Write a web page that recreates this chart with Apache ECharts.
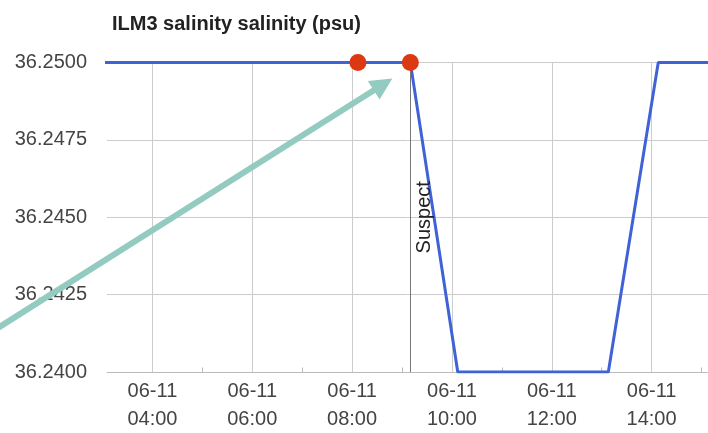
<!DOCTYPE html>
<html>
<head>
<meta charset="utf-8">
<script src="https://cdn.jsdelivr.net/npm/echarts@6/dist/echarts.min.js"></script>
<style>
  html, body { margin: 0; padding: 0; background: #fff; }
  #chart { width: 708px; height: 433px; }
</style>
</head>
<body>
<div id="chart"></div>
<script>
// readings, hourly (time of day on 06-11)
const times = ['02:07', '03:07', '04:07', '05:07', '06:07', '07:07', '08:07', '09:10',
               '10:07', '11:07', '12:07', '13:08', '14:08', '15:08'];
const salinity = [36.25, 36.25, 36.25, 36.25, 36.25, 36.25, 36.25, 36.25,
                  36.24, 36.24, 36.24, 36.24, 36.25, 36.25];

// flagged points (red) and the suspect marker
const flaggedTimes = ['08:07', '09:10'];
const flaggedValues = [36.25, 36.25];
const suspectTime = '09:10';

const labelHours = [4, 6, 8, 10, 12, 14];
const minorHours = [5, 7, 9, 11, 13, 15];
const xMin = 3.09, xMax = 15.13;
const yMin = 36.24, yMax = 36.25, yStep = 0.0025;

const toHour = s => {
    const [h, m] = s.split(':').map(Number);
    return h + m / 60;
};
const pad = n => (n < 10 ? '0' : '') + n;

const font = 'Liberation Sans';
const gridBox = { left: 107, right: 0, top: 62.5, bottom: 60.5 };

const chart = echarts.init(document.getElementById('chart'));

chart.setOption({
    animation: false,
    title: {
        text: 'ILM3 salinity salinity (psu)',
        left: 107,
        top: 9,
        textStyle: { fontFamily: font, fontSize: 20, fontWeight: 'bold', color: '#222' }
    },
    grid: [
        Object.assign({}, gridBox),
        Object.assign({}, gridBox)
    ],
    xAxis: [
        {
            type: 'value',
            gridIndex: 0,
            min: xMin,
            max: xMax,
            axisLine: { lineStyle: { color: '#bbb', width: 1 } },
            axisTick: { show: false, customValues: labelHours },
            splitLine: { show: true, lineStyle: { color: '#ccc', width: 1 } },
            axisLabel: {
                customValues: labelHours,
                formatter: v => '06-11\n' + pad(Math.round(v)) + ':00',
                fontFamily: font,
                fontSize: 20,
                lineHeight: 28,
                color: '#444',
                margin: 5
            }
        },
        {
            // odd-hour minor ticks
            type: 'value',
            gridIndex: 1,
            min: xMin,
            max: xMax,
            axisLine: { show: false },
            axisLabel: { show: false },
            splitLine: { show: false },
            axisTick: {
                customValues: minorHours,
                inside: true,
                length: 5,
                lineStyle: { color: '#bbb' }
            }
        }
    ],
    yAxis: [
        {
            type: 'value',
            gridIndex: 0,
            min: yMin,
            max: yMax,
            interval: yStep,
            axisLine: { show: false },
            axisTick: { show: false },
            splitLine: { lineStyle: { color: '#ccc', width: 1 } },
            axisLabel: {
                formatter: v => v.toFixed(4),
                fontFamily: font,
                fontSize: 20,
                color: '#444',
                margin: 20
            }
        },
        { type: 'value', gridIndex: 1, min: yMin, max: yMax, show: false }
    ],
    series: [
        {
            type: 'line',
            data: times.map((t, i) => [toHour(t), salinity[i]]),
            showSymbol: false,
            lineStyle: { color: '#3f63d6', width: 3 },
            clip: true,
            z: 3,
            markLine: {
                silent: true,
                symbol: ['none', 'none'],
                lineStyle: { color: '#777', width: 1, type: 'solid' },
                label: {
                    show: true,
                    formatter: 'Suspect',
                    position: 'insideMiddleBottom',
                    fontFamily: font,
                    fontSize: 20,
                    color: '#222',
                    distance: 4
                },
                data: [{ xAxis: toHour(suspectTime) }]
            }
        },
        {
            type: 'scatter',
            data: flaggedTimes.map((t, i) => [toHour(t), flaggedValues[i]]),
            symbolSize: 17,
            itemStyle: { color: '#dc3912', opacity: 1 },
            z: 5
        }
    ]
});

// teal arrow pointing at the suspect reading
const tipBase = chart.convertToPixel({ gridIndex: 0 }, [toHour(suspectTime), 36.25]);
const tip = [tipBase[0] - 18, tipBase[1] + 16];
const start = [-10, 333];
const dx = tip[0] - start[0], dy = tip[1] - start[1];
const len = Math.sqrt(dx * dx + dy * dy);
const ux = dx / len, uy = dy / len;
const headLen = 22, headHalf = 11;
const base = [tip[0] - ux * headLen, tip[1] - uy * headLen];
chart.setOption({
    graphic: [
        {
            type: 'line',
            shape: { x1: start[0], y1: start[1], x2: base[0] + ux * 2, y2: base[1] + uy * 2 },
            style: { stroke: '#93cbc1', lineWidth: 6 },
            z: 20
        },
        {
            type: 'polygon',
            shape: {
                points: [
                    tip,
                    [base[0] - uy * headHalf, base[1] + ux * headHalf],
                    [base[0] + uy * headHalf, base[1] - ux * headHalf]
                ]
            },
            style: { fill: '#93cbc1' },
            z: 20
        }
    ]
});
</script>
</body>
</html>
